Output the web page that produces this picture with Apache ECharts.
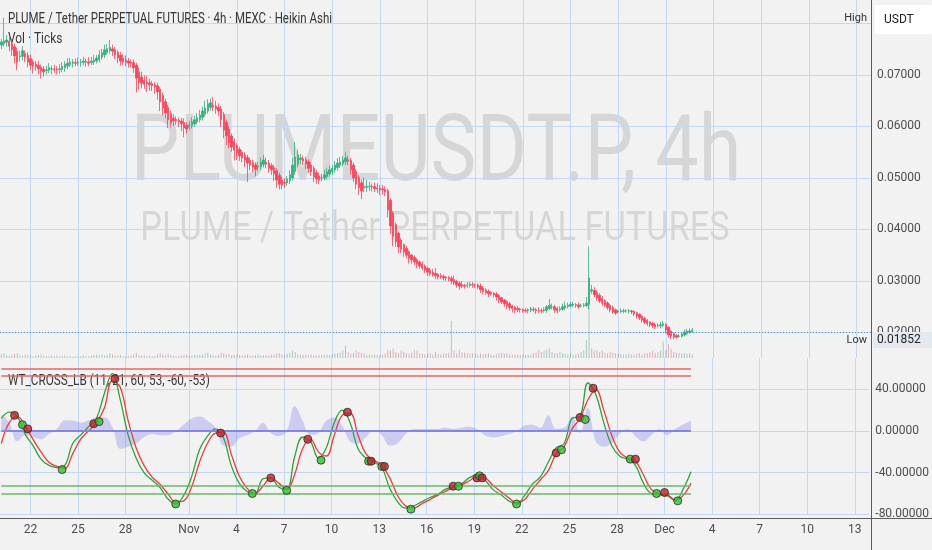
<!DOCTYPE html>
<html><head><meta charset="utf-8">
<script src="https://cdn.jsdelivr.net/npm/echarts@6/dist/echarts.min.js"></script>
<style>html,body{margin:0;padding:0;background:#f2f2f2}#c{width:932px;height:550px}</style>
</head><body><div id="c"></div>
<script>
// ---------------- data ----------------
const startTime = Date.UTC(2025, 9, 20, 4);   // first 4h slot: 20 Oct 04:00
const barHours = 4;
const slotCount = 329;                          // slots shown on the time axis (to ~14 Dec)
const tickDates = ['2025-10-22','2025-10-25','2025-10-28','2025-11-01','2025-11-04','2025-11-07','2025-11-10','2025-11-13','2025-11-16','2025-11-19','2025-11-22','2025-11-25','2025-11-28','2025-12-01','2025-12-04','2025-12-07','2025-12-10','2025-12-13'];
const tickLabels = ['22','25','28','Nov','4','7','10','13','16','19','22','25','28','Dec','4','7','10','13'];

const firstOpen = 0.0758;
// Heikin Ashi closes, one per 4h bar
const haClose = [
0.0764,0.0766,0.0768,0.0756,0.0749,0.0737,0.0725,0.0737,0.0747,0.0735,
0.0725,0.0719,0.0717,0.0716,0.0712,0.0708,0.0706,0.0710,0.0714,0.0712,
0.0710,0.0710,0.0712,0.0717,0.0721,0.0723,0.0725,0.0725,0.0723,0.0725,
0.0725,0.0727,0.0725,0.0723,0.0727,0.0729,0.0733,0.0739,0.0743,0.0749,
0.0751,0.0754,0.0746,0.0739,0.0733,0.0727,0.0725,0.0725,0.0723,0.0723,
0.0714,0.0694,0.0686,0.0684,0.0682,0.0683,0.0681,0.0679,0.0677,0.0667,
0.0648,0.0636,0.0626,0.0613,0.0607,0.0611,0.0611,0.0609,0.0605,0.0597,
0.0595,0.0603,0.0609,0.0613,0.0617,0.0622,0.0630,0.0636,0.0644,0.0646,
0.0638,0.0634,0.0630,0.0613,0.0593,0.0582,0.0568,0.0560,0.0554,0.0549,
0.0543,0.0539,0.0535,0.0529,0.0525,0.0521,0.0517,0.0523,0.0531,0.0535,
0.0527,0.0519,0.0516,0.0508,0.0496,0.0488,0.0486,0.0490,0.0498,0.0506,
0.0525,0.0541,0.0545,0.0539,0.0533,0.0527,0.0519,0.0512,0.0502,0.0498,
0.0496,0.0500,0.0506,0.0512,0.0516,0.0519,0.0525,0.0529,0.0531,0.0535,
0.0539,0.0533,0.0516,0.0500,0.0488,0.0481,0.0475,0.0481,0.0484,0.0484,
0.0483,0.0479,0.0479,0.0477,0.0477,0.0473,0.0438,0.0407,0.0387,0.0376,
0.0366,0.0362,0.0356,0.0350,0.0344,0.0341,0.0337,0.0333,0.0329,0.0325,
0.0321,0.0317,0.0314,0.0312,0.0310,0.0308,0.0308,0.0306,0.0306,0.0304,
0.0300,0.0296,0.0292,0.0290,0.0290,0.0290,0.0292,0.0294,0.0292,0.0292,
0.0288,0.0283,0.0279,0.0277,0.0275,0.0275,0.0273,0.0269,0.0263,0.0259,
0.0256,0.0252,0.0248,0.0246,0.0244,0.0244,0.0244,0.0242,0.0242,0.0244,
0.0246,0.0244,0.0242,0.0242,0.0242,0.0244,0.0250,0.0253,0.0250,0.0244,
0.0242,0.0246,0.0250,0.0252,0.0253,0.0255,0.0255,0.0253,0.0250,0.0252,
0.0253,0.0257,0.0306,0.0283,0.0273,0.0267,0.0261,0.0257,0.0253,0.0248,
0.0244,0.0240,0.0238,0.0240,0.0242,0.0242,0.0242,0.0242,0.0240,0.0236,
0.0232,0.0228,0.0224,0.0220,0.0217,0.0215,0.0213,0.0211,0.0213,0.0215,
0.0217,0.0205,0.0195,0.0193,0.0191,0.0191,0.0193,0.0197,0.0201,0.0203,
0.0203,0.0205];
// wick lengths beyond the body, in units of 0.0001 USDT
const wickUp = [
6,45,10,8,9,6,7,10,9,6, 6,8,5,6,9,5,6,8,9,6, 8,6,9,8,6,10,8,6,8,9, 6,8,6,9,8,10,6,9,8,10,
9,14,8,6,5,6,8,9,6,5, 6,5,8,10,9,12,8,6,5,6, 4,5,6,5,6,8,6,5,6,8, 6,8,9,8,9,10,8,14,9,8,
16,10,8,6,5,5,6,5,6,5, 5,5,6,5,5,6,5,8,9,10, 9,6,5,6,5,5,6,8,6,9, 14,29,10,8,6,6,5,6,5,5,
6,8,10,8,9,6,8,9,10,8, 12,8,5,5,5,5,6,18,12,9, 6,8,9,6,8,6,4,4,4,4,
3,4,2,5,3,2,4,3,2,5, 3,2,4,6,10,3,5,4,2,3, 4,8,3,4,7,3,6,4,5,3, 3,5,4,3,4,3,2,4,3,2,
2,3,4,2,3,5,3,2,4,3, 4,5,3,6,4,5,3,12,6,4, 3,5,6,8,5,4,5,3,5,4, 4,12,61,9,6,5,4,4,3,3,
3,4,2,3,5,4,3,4,2,2, 2,2,2,3,2,2,3,4,5,6, 5,3,2,2,2,3,4,4,5,4, 5,4];
const wickDown = [
8,6,9,10,12,14,16,9,8,10, 10,9,14,8,10,15,9,8,6,10, 6,9,8,6,8,6,5,8,6,6, 8,6,9,6,5,6,5,6,5,6,
5,6,9,8,10,9,6,8,9,8, 10,28,14,10,9,16,12,10,14,15, 18,14,10,16,9,10,8,10,14,18, 9,6,5,6,5,5,6,5,5,6,
8,9,10,14,16,18,10,9,20,14, 10,9,14,37,10,9,14,8,6,6, 8,9,10,14,15,10,8,9,6,6, 5,6,6,9,8,10,9,8,10,9,
8,6,5,6,5,6,5,6,5,5, 6,8,9,8,10,14,16,8,9,8, 9,6,8,10,9,8,14,16,20,10,
12,8,9,6,10,7,6,8,5,4, 6,7,5,4,6,5,4,5,6,5, 6,4,5,7,4,5,4,4,5,6, 4,6,5,4,6,4,5,7,6,4,
6,7,5,7,6,4,5,4,4,6, 4,4,6,4,5,4,5,3,5,6, 5,4,3,4,3,3,4,5,4,3, 3,3,10,5,4,5,4,5,4,4,
5,4,4,3,3,4,3,5,4,4, 5,4,5,4,4,5,4,4,3,5, 4,7,5,6,4,3,3,3,3,3, 3,3];
// volume per bar (arbitrary units)
const volume = [
6,8,5,4,6,7,8,5,4,6, 5,4,3,4,5,6,4,3,3,4, 3,4,3,3,4,3,3,2,3,3, 3,4,3,3,4,5,6,5,6,4,
5,8,6,4,4,5,3,3,3,4, 6,9,5,4,4,3,4,3,4,6, 8,6,5,7,5,4,3,3,4,5, 6,4,4,5,5,6,6,7,9,6,
5,4,6,9,8,6,7,5,5,6, 5,4,5,6,4,4,5,6,4,5, 5,4,6,6,7,8,6,5,7,9, 12,10,6,5,5,6,5,6,4,4,
5,6,5,6,5,6,7,8,9,12, 20,10,8,9,12,10,9,8,5,6, 5,6,5,5,6,8,14,12,16,10, 9,12,10,8,7,9,14,12,8,7,
6,7,8,6,10,7,6,7,8,9, 62,12,8,14,10,9,8,7,8,7, 6,7,6,7,8,6,5,6,8,9, 7,8,6,5,6,6,5,6,5,6,
6,8,9,14,10,12,14,16,10,8, 8,10,8,7,6,8,6,6,7,10, 12,30,100,16,12,14,10,12,9,8, 10,9,8,7,7,6,6,7,6,6,
7,8,6,7,8,10,12,9,10,12, 28,14,24,16,10,9,8,7,8,7, 8,6];
const lowPrice = 0.01852;

// WT_CROSS_LB, read every 3 bars
const wtStep = 3;
const wt1 = [
12,18,14,-3,-14,-27,-33,-35,-33,-12, -4,4,12,36,55,30,-4,-26,-40,-47,
-54,-65,-70,-62,-44,-18,-5,2,-6,-33, -50,-58,-60,-46,-45,-54,-56,-25,-6,-10,
-26,-16,8,20,8,-17,-26,-30,-35,-55, -68,-74,-72,-68,-64,-61,-56,-53,-51,-45,
-42,-47,-56,-61,-67,-70,-62,-51,-44,-30, -16,-12,12,14,46,35,8,-14,-24,-27,
-33,-50,-60,-61,-62,-67,-56,-39];
const wt2 = [
-12,8,14,5,-8,-20,-30,-34,-36,-22, -8,0,8,22,48,42,10,-16,-33,-44,
-51,-60,-68,-67,-54,-30,-12,-2,-1,-22, -43,-55,-60,-53,-45,-50,-56,-42,-17,-8,
-20,-24,-4,15,17,-4,-22,-28,-33,-45, -62,-72,-74,-70,-66,-62,-58,-54,-52,-48,
-44,-45,-52,-58,-64,-69,-66,-56,-47,-38, -22,-15,2,12,30,40,20,-4,-20,-26,
-29,-42,-56,-60,-61,-66,-62,-50];
const wtDiff = [
16,8,-10,-4,-6,-8,-3,2,10,10, 8,10,13,13,4,-17,-15,-12,-6,-3,
-4,-4,0,6,12,14,10,3,-14,-15, -7,-4,0,8,-2,-5,0,24,10,-4,
-2,10,13,5,-10,-12,-6,1,-4,-14, -12,-3,2,2,2,2,3,2,3,4,
2,-4,-6,-5,-3,0,5,6,3,15, 2,3,14,-2,22,-10,-15,-12,-3,2,
-5,-10,-4,2,-4,2,6,10];
const crossIdx = [5,8,10,23,35,37,43,66,83,95,102,108,116,121,131,139,140,144,145,155,171,173,180,181,182,195,210,212,219,221,224,238,240,248,251,256];
const crossVal = [15,6,2,-37,7,9,50,-70,-2,-60,-45,-57,-8,-28,18,-29,-29,-34,-34,-75,-53,-53,-45,-43,-45,-70,-21,-18,13,11,41,-27,-27,-60,-59,-67];
const crossUp  = [0,1,0,1,0,1,0,1,0,1,0,1,0,1,0,1,0,1,0,1,0,1,0,1,0,1,0,1,0,1,0,1,0,1,0,1];
const obLevels = [60, 53];
const osLevels = [-53, -60];

// ---------------- build ----------------
function pad(n){return (n<10?'0':'')+n;}
const cats = [];
for (let i = 0; i < slotCount; i++) {
  const d = new Date(startTime + i * barHours * 3600e3);
  cats.push(d.getUTCFullYear()+'-'+pad(d.getUTCMonth()+1)+'-'+pad(d.getUTCDate())+' '+pad(d.getUTCHours())+':00');
}
const tickMap = {};
tickDates.forEach((d, k) => { tickMap[d + ' 00:00'] = tickLabels[k]; });
const isTick = (idx, val) => tickMap[val] !== undefined;

const UP = '#35ad7d', DOWN = '#f5445a';
const candles = [], volData = [];
let o = firstOpen;
for (let i = 0; i < haClose.length; i++) {
  if (i > 0) o = (o + haClose[i-1]) / 2;   // Heikin Ashi open
  const c = haClose[i];
  const hi = Math.max(o, c) + wickUp[i] * 1e-4;
  const lo = Math.min(o, c) - wickDown[i] * 1e-4;
  candles.push([+o.toFixed(6), c, +lo.toFixed(6), +hi.toFixed(6)]);
  volData.push({value: volume[i], itemStyle: {color: c >= o ? 'rgba(60,150,120,0.42)' : 'rgba(190,90,100,0.42)'}});
}
const maxHigh = Math.max(...candles.map(k => k[3]));
const lastClose = haClose[haClose.length - 1];
const lastIdx = haClose.length - 1;

const wtPairs = arr => arr.map((v, k) => [k * wtStep, v]);
const dots = crossIdx.map((ix, k) => ({value: [ix, crossVal[k]], itemStyle: {color: crossUp[k] ? '#2fc02f' : '#c0232a'}}));

const levelLine = (v, color, width) => [
  {coord: [cats[0], v], lineStyle: {color: color, width: width, type: 'solid'}},
  {coord: [cats[lastIdx], v]}
];

const GRID = '#c3d9f2';
const FONT = 'Roboto';
const LABEL = {color: '#4d4d4d', fontSize: 12, fontFamily: FONT};

const option = {
  animation: false,
  backgroundColor: '#f2f2f2',
  grid: [
    {left: 0, right: 61, top: 0, height: 384},     // price
    {left: 0, right: 61, top: 358, height: 156.4}, // indicator
    {left: 0, right: 61, top: 0, height: 358}      // volume
  ],
  xAxis: [
    {type: 'category', gridIndex: 0, data: cats, boundaryGap: true,
     axisLine: {show: false}, axisTick: {show: false}, axisLabel: {show: false}, splitLine: {show: false}},
    {type: 'category', gridIndex: 1, data: cats, boundaryGap: true,
     axisLine: {show: false}, axisTick: {show: false},
     axisLabel: Object.assign({interval: isTick, margin: 10, formatter: v => tickMap[v] || ''}, LABEL),
     splitLine: {show: true, interval: isTick, alignWithLabel: true, lineStyle: {color: GRID, width: 1}}},
    {type: 'category', gridIndex: 2, data: cats, boundaryGap: true,
     axisLine: {show: false}, axisTick: {show: false}, axisLabel: {show: false},
     splitLine: {show: true, interval: isTick, alignWithLabel: true, lineStyle: {color: GRID, width: 1}}}
  ],
  yAxis: [
    {type: 'value', gridIndex: 0, position: 'right', min: 0.01, max: 0.08456, interval: 0.01,
     axisLine: {show: false}, axisTick: {show: false},
     axisLabel: Object.assign({margin: 6, formatter: v => {
        const r = Math.round(v * 100) / 100;
        if (Math.abs(v - r) > 1e-7 || r < 0.015 || r > 0.075) return '';
        return v.toFixed(5);
     }}, LABEL),
     splitLine: {show: true, showMinLine: false, showMaxLine: false, lineStyle: {color: GRID, width: 1}}},
    {type: 'value', gridIndex: 1, position: 'right', min: -80, max: 70, interval: 40,
     axisLine: {show: false}, axisTick: {show: false},
     axisLabel: Object.assign({margin: 6, formatter: v => (v % 40 === 0 ? v.toFixed(5) : '')}, LABEL),
     splitLine: {show: true, showMaxLine: false, lineStyle: {color: GRID, width: 1}}},
    {type: 'value', gridIndex: 2, min: 0, max: 600, show: false, splitLine: {show: false}}
  ],
  series: [
    {type: 'bar', name: 'Vol', xAxisIndex: 2, yAxisIndex: 2, data: volData, barWidth: 1, z: 1},
    {type: 'candlestick', name: 'HA', xAxisIndex: 0, yAxisIndex: 0, data: candles, barWidth: 1.9, z: 3,
     itemStyle: {color: UP, color0: DOWN, borderColor: UP, borderColor0: DOWN, borderWidth: 0.8},
     markLine: {silent: true, symbol: ['none', 'none'], label: {show: false},
       data: [{yAxis: lastClose, lineStyle: {color: '#5a8cc8', type: [1, 2], width: 1}}]}},
    {type: 'line', name: 'diff', xAxisIndex: 1, yAxisIndex: 1, data: wtPairs(wtDiff), smooth: 0.4,
     symbol: 'none', lineStyle: {width: 0}, areaStyle: {color: 'rgba(88,92,235,0.36)'}, z: 2,
     markLine: {silent: true, symbol: ['none', 'none'], label: {show: false},
       data: [
         levelLine(obLevels[0], '#e56767', 1.5), levelLine(obLevels[1], '#e56767', 1.5),
         levelLine(osLevels[0], '#6cb56c', 1.5), levelLine(osLevels[1], '#6cb56c', 1.5),
         levelLine(0, '#8486e4', 1.8)
       ]}},
    {type: 'line', name: 'wt1', xAxisIndex: 1, yAxisIndex: 1, data: wtPairs(wt1), smooth: 0.4,
     symbol: 'none', lineStyle: {color: '#2ea23a', width: 1.3}, z: 3},
    {type: 'line', name: 'wt2', xAxisIndex: 1, yAxisIndex: 1, data: wtPairs(wt2), smooth: 0.4,
     symbol: 'none', lineStyle: {color: '#ee3b3b', width: 1.3}, z: 4},
    {type: 'scatter', name: 'cross', xAxisIndex: 1, yAxisIndex: 1, data: dots, symbolSize: 8, z: 5,
     itemStyle: {borderColor: '#2a2a2a', borderWidth: 1}}
  ]
};

const chart = echarts.init(document.getElementById('c'));
chart.setOption(option);

const yHigh = chart.convertToPixel({yAxisIndex: 0}, maxHigh);
const yLow = chart.convertToPixel({yAxisIndex: 0}, lowPrice);
const txt = (x, y, text, font, fill, align, sx, z) => ({
  type: 'text', x: x, y: y, scaleX: sx || 1, z: z === undefined ? 1 : z, silent: true,
  style: {text: text, font: font, fill: fill, textAlign: align || 'left', textVerticalAlign: 'middle', verticalAlign: 'middle'}
});
chart.setOption({graphic: [
  txt(436, 157, 'PLUMEUSDT.P, 4h', '92px Roboto', 'rgba(0,0,0,0.115)', 'center', 0.84, -10),
  txt(435, 230, 'PLUME / Tether PERPETUAL FUTURES', '40px Roboto', 'rgba(0,0,0,0.115)', 'center', 0.86, -10),
  txt(8, 19, 'PLUME / Tether PERPETUAL FUTURES · 4h · MEXC · Heikin Ashi', '14px Roboto', '#363636', 'left', 0.82, 1),
  txt(8, 39, 'Vol · Ticks', '14px Roboto', '#363636', 'left', 0.85, 1),
  txt(8, 381, 'WT_CROSS_LB (11, 21, 60, 53, -60, -53)', '14px Roboto', '#363636', 'left', 0.84, 1),
  {type: 'line', silent: true, z: 20, shape: {x1: 871.5, y1: 0, x2: 871.5, y2: 550}, style: {stroke: '#5c5c5c', lineWidth: 1}},
  {type: 'line', silent: true, z: 20, shape: {x1: 0, y1: 518.5, x2: 932, y2: 518.5}, style: {stroke: '#5c5c5c', lineWidth: 1}},
  txt(867, yHigh, 'High', '11px Roboto', '#333', 'right', 1, 20),
  txt(867, yLow, 'Low', '11px Roboto', '#333', 'right', 1, 20),
  {type: 'rect', silent: true, z: 20, shape: {x: 873, y: yLow - 8, width: 59, height: 16}, style: {fill: '#e4e9f0'}},
  txt(877, yLow, lowPrice.toFixed(5), '12px Roboto', '#222', 'left', 1, 21),
  {type: 'rect', silent: true, z: 20, shape: {x: 875, y: 5, width: 57, height: 29, r: 2}, style: {fill: '#ffffff'}},
  txt(884, 19.5, 'USDT', '12px Roboto', '#222', 'left', 1, 21)
]});
</script>
</body></html>
